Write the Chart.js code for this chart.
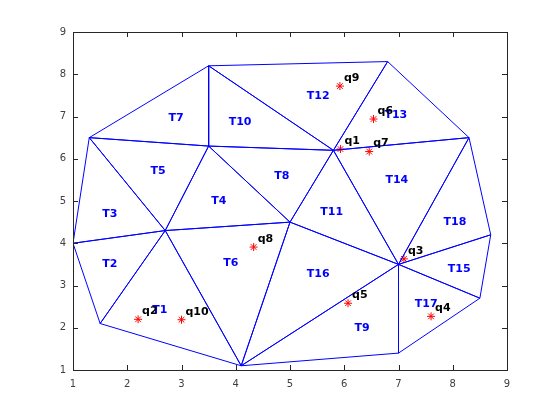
<!DOCTYPE html>
<html lang="en">
<head>
  <meta charset="UTF-8">
  <title>Triangulation</title>
  <script src="https://cdn.jsdelivr.net/npm/chart.js@4/dist/chart.umd.min.js"></script>
  <style>
    body { margin: 0; background: #fff; }
    #wrap { width: 560px; height: 420px; }
  </style>
</head>
<body>
  <div id="wrap"><canvas id="tri"></canvas></div>
  <script>
    // vertices (A..O)
    const vx = [1.3, 3.5, 6.8, 8.3, 8.7, 8.5, 7.0, 4.1, 1.5, 1.0, 2.7, 3.5, 5.0, 5.8, 7.0];
    const vy = [6.5, 8.2, 8.3, 6.5, 4.2, 2.7, 1.4, 1.1, 2.1, 4.0, 4.3, 6.3, 4.5, 6.2, 3.5];

    // triangles T1..T18, vertex indices
    const tris = [
      [8, 10, 7], [9, 10, 8], [9, 0, 10], [10, 11, 12], [0, 11, 10], [10, 12, 7],
      [0, 1, 11], [11, 13, 12], [7, 14, 6], [1, 13, 11], [13, 14, 12], [1, 2, 13],
      [2, 3, 13], [13, 3, 14], [14, 4, 5], [12, 14, 7], [14, 5, 6], [3, 4, 14]
    ];
    const triNames = ['T1', 'T2', 'T3', 'T4', 'T5', 'T6', 'T7', 'T8', 'T9', 'T10',
                      'T11', 'T12', 'T13', 'T14', 'T15', 'T16', 'T17', 'T18'];
    const triLabelX = [2.6, 1.68, 1.68, 3.69, 2.57, 3.91, 2.9, 4.85, 6.33, 4.08,
                       5.77, 5.52, 6.95, 6.97, 8.12, 5.52, 7.51, 8.04];
    const triLabelY = [2.42, 3.5, 4.69, 5.0, 5.71, 3.53, 6.96, 5.59, 2.0, 6.87,
                       4.74, 7.49, 7.04, 5.5, 3.39, 3.27, 2.56, 4.5];

    // query points
    const qNames = ['q1', 'q2', 'q3', 'q4', 'q5', 'q6', 'q7', 'q8', 'q9', 'q10'];
    const qx = [5.93, 2.2, 7.1, 7.6, 6.07, 6.54, 6.46, 4.33, 5.92, 3.0];
    const qy = [6.23, 2.2, 3.63, 2.27, 2.58, 6.94, 6.17, 3.91, 7.72, 2.19];

    const tickVals = [1, 2, 3, 4, 5, 6, 7, 8, 9];

    const datasets = tris.map(t => ({
      type: 'scatter',
      data: [t[0], t[1], t[2], t[0]].map(i => ({ x: vx[i], y: vy[i] })),
      showLine: true,
      borderColor: 'rgb(0,0,255)',
      borderWidth: 1,
      pointRadius: 0,
      fill: false
    }));

    datasets.push({
      type: 'scatter',
      data: qx.map((x, i) => ({ x: x, y: qy[i] })),
      showLine: false,
      pointStyle: 'star',
      pointRadius: 4,
      borderColor: 'rgb(255,0,0)',
      backgroundColor: 'rgb(255,0,0)',
      borderWidth: 1
    });

    const axisColor = '#262626';

    const labelPlugin = {
      id: 'labels',
      afterDatasetsDraw(chart) {
        const c = chart.ctx;
        const xs = chart.scales.x, ys = chart.scales.y;
        c.save();
        c.font = 'bold 11px "DejaVu Sans"';
        c.textAlign = 'center';
        c.textBaseline = 'middle';
        c.fillStyle = 'rgb(0,0,255)';
        triNames.forEach((n, i) => {
          c.fillText(n, xs.getPixelForValue(triLabelX[i]), ys.getPixelForValue(triLabelY[i]));
        });
        c.fillStyle = '#000';
        c.textAlign = 'left';
        qNames.forEach((n, i) => {
          c.fillText(n, xs.getPixelForValue(qx[i]) + 4, ys.getPixelForValue(qy[i]) - 8);
        });
        c.restore();
      },
      afterDraw(chart) {
        const c = chart.ctx;
        const a = chart.chartArea;
        const xs = chart.scales.x, ys = chart.scales.y;
        c.save();
        c.strokeStyle = axisColor;
        c.lineWidth = 1;
        c.strokeRect(Math.round(a.left) + 0.5, Math.round(a.top) + 0.5,
                     Math.round(a.right - a.left), Math.round(a.bottom - a.top));
        c.beginPath();
        tickVals.forEach(v => {
          const px = Math.round(xs.getPixelForValue(v)) + 0.5;
          c.moveTo(px, a.bottom); c.lineTo(px, a.bottom - 5);
          c.moveTo(px, a.top); c.lineTo(px, a.top + 5);
          const py = Math.round(ys.getPixelForValue(v)) + 0.5;
          c.moveTo(a.left, py); c.lineTo(a.left + 5, py);
          c.moveTo(a.right, py); c.lineTo(a.right - 5, py);
        });
        c.stroke();
        c.restore();
      }
    };

    new Chart(document.getElementById('tri'), {
      type: 'scatter',
      data: { datasets: datasets },
      options: {
        responsive: true,
        maintainAspectRatio: false,
        animation: false,
        layout: { padding: { left: 0, top: 32, right: 53, bottom: 0 } },
        plugins: { legend: { display: false }, tooltip: { enabled: false } },
        scales: {
          x: {
            type: 'linear', min: 1, max: 9,
            afterFit(s) { s.height = 50; },
            afterBuildTicks(s) { s.ticks = tickVals.map(v => ({ value: v })); },
            grid: { display: false, drawTicks: false },
            border: { display: false },
            ticks: { padding: 8, color: '#404040', font: { family: 'DejaVu Sans', size: 10 } }
          },
          y: {
            type: 'linear', min: 1, max: 9,
            afterFit(s) { s.width = 73; },
            afterBuildTicks(s) { s.ticks = tickVals.map(v => ({ value: v })); },
            grid: { display: false, drawTicks: false },
            border: { display: false },
            ticks: { padding: 7, color: '#404040', font: { family: 'DejaVu Sans', size: 10 } }
          }
        }
      },
      plugins: [labelPlugin]
    });
  </script>
</body>
</html>
